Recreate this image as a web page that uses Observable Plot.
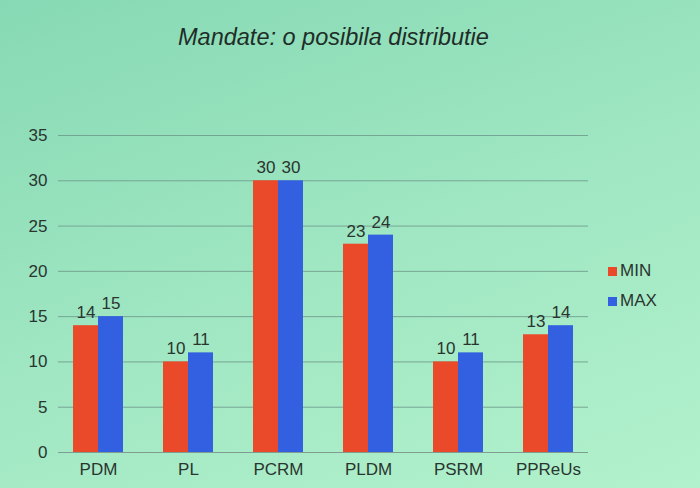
<!DOCTYPE html>
<html>
<head>
<meta charset="utf-8">
<script src="https://cdn.jsdelivr.net/npm/d3@7"></script>
<script src="https://cdn.jsdelivr.net/npm/@observablehq/plot@0.6"></script>
<style>
  html, body { margin: 0; padding: 0; }
  body {
    width: 700px; height: 488px; overflow: hidden; position: relative;
    background: linear-gradient(160deg, #86d9b4 0%, #9fe6c2 50%, #b2f2cc 100%);
    font-family: "Liberation Sans", Arial, sans-serif;
  }
  #title {
    height: 90px; box-sizing: border-box; padding-top: 24px; padding-left: 178px;
    font-size: 23.5px; font-style: italic; color: #1f2d28;
  }
  #chart { position: relative; width: 700px; height: 398px; }
  #chart svg { position: absolute; left: 0; top: 0; }
  #legend { position: absolute; left: 608px; top: 256px; font-size: 17px; color: #2a3530; }
  #legend div { display: flex; align-items: center; height: 30px; }
  #legend span.sw { display: inline-block; width: 9px; height: 9px; margin-right: 3px; }
</style>
</head>
<body>
<div id="title">Mandate: o posibila distributie</div>
<div id="chart"></div>
<div id="legend"></div>
<script>
const parties = ["PDM", "PL", "PCRM", "PLDM", "PSRM", "PPReUs"];
const series = ["MIN", "MAX"];
const minValues = [14, 10, 30, 23, 10, 13];
const maxValues = [15, 11, 30, 24, 11, 14];
const yTicks = [0, 5, 10, 15, 20, 25, 30, 35];
const colors = ["#ea4a2a", "#3260e0"];

const data = [];
parties.forEach((p, i) => {
  data.push({party: p, series: "MIN", value: minValues[i]});
  data.push({party: p, series: "MAX", value: maxValues[i]});
});

const common = {
  width: 700,
  height: 398,
  marginTop: 45,
  marginBottom: 36,
  marginLeft: 58,
  marginRight: 112,
  style: {background: "transparent", fontFamily: "Liberation Sans, Arial, sans-serif", fontSize: "17px", color: "#2a3530", overflow: "visible"}
};

// background: gridlines and y axis spanning the full plot width
const back = Plot.plot({
  ...common,
  y: {domain: [0, 35], ticks: yTicks, label: null},
  x: {axis: null},
  marks: [
    Plot.ruleY(yTicks.filter(t => t > 0), {stroke: "#6f9a8c", strokeOpacity: 0.85, strokeWidth: 1}),
    Plot.ruleY([0], {stroke: "#7f9c92", strokeWidth: 1.2}),
    Plot.axisY({ticks: yTicks, tickSize: 0, tickPadding: 11, fontSize: 17, label: null})
  ]
});

// foreground: grouped bars
const front = Plot.plot({
  ...common,
  fx: {domain: parties, paddingInner: 0.44, paddingOuter: 0.16, label: null},
  x: {domain: series, padding: 0, axis: null},
  y: {domain: [0, 35], axis: null},
  color: {domain: series, range: colors},
  marks: [
    Plot.barY(data, {fx: "party", x: "series", y: "value", fill: "series"}),
    Plot.text(data, {fx: "party", x: "series", y: "value", text: d => String(d.value), dy: -13, fontSize: 17, fill: "#2a3530"}),
    Plot.axisFx({anchor: "bottom", tickSize: 0, tickPadding: 10, fontSize: 17, label: null})
  ]
});

const chartEl = document.getElementById("chart");
chartEl.appendChild(back);
chartEl.appendChild(front);

const legend = document.getElementById("legend");
series.forEach((s, i) => {
  const row = document.createElement("div");
  const sw = document.createElement("span");
  sw.className = "sw";
  sw.style.background = colors[i];
  row.appendChild(sw);
  row.appendChild(document.createTextNode(s));
  legend.appendChild(row);
});
</script>
</body>
</html>
